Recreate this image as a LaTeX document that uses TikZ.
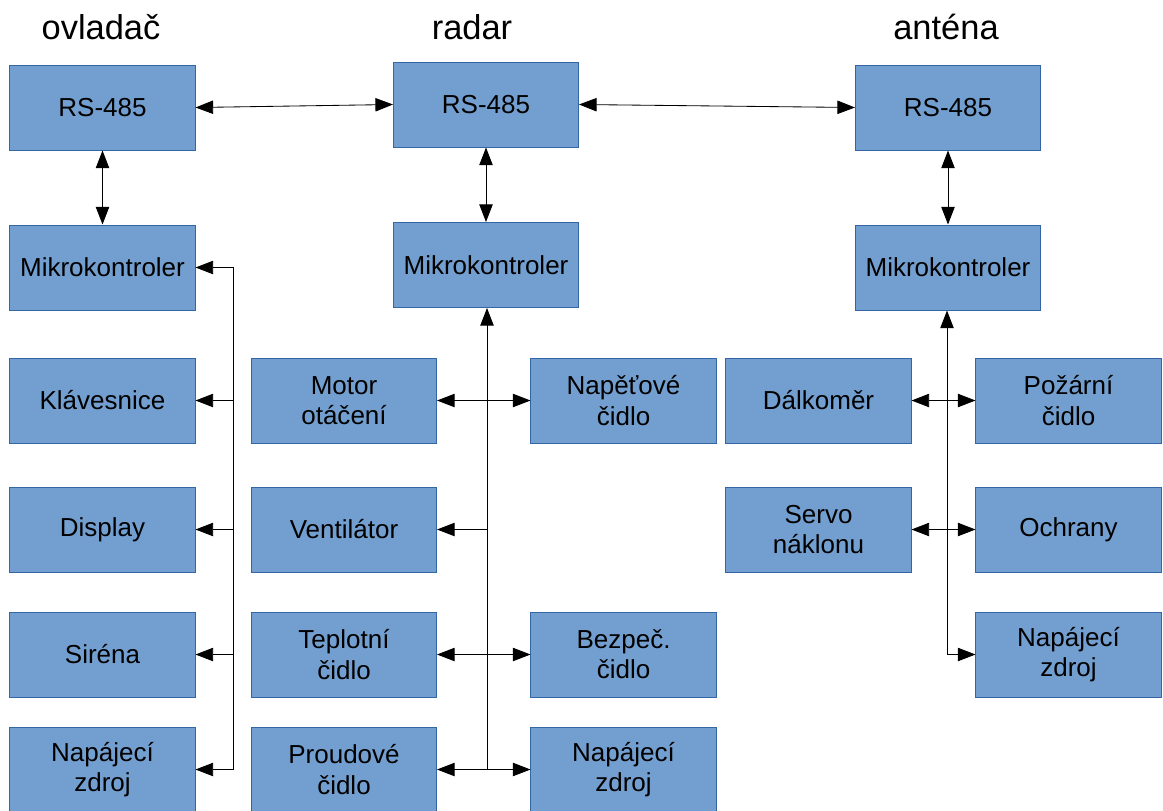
\documentclass[tikz,border=0pt]{standalone}
\usepackage{fontspec}
\setmainfont{Liberation Sans}
\usetikzlibrary{arrows.meta}

\definecolor{boxfill}{HTML}{729FCF}
\definecolor{boxline}{HTML}{3465A4}

\tikzset{
	blok/.style={draw=boxline, fill=boxfill, line width=0.7pt, minimum width=4.625cm, minimum height=2.125cm,
		align=center, font=\fontsize{18.5}{21.5}\selectfont},
	nadpis/.style={font=\fontsize{24.5}{28}\selectfont},
	spoj/.style={line width=0.6pt, >={Triangle[length=12.5pt,width=9.5pt]}, <->}
}

\begin{document}
\begin{tikzpicture}[x=0.025cm, y=-0.025cm]
	\useasboundingbox (0,0) rectangle (1163,810);
	
	% nadpisy
	\node[nadpis] (tovl) at (101,27) {ovladač};
	\node[nadpis] (trad) at (472,27) {radar};
	\node[nadpis] (tant) at (946,27) {anténa};
	
	% ovladac
	\node[blok] (ors)  at (102.5,107.5) {RS-485};
	\node[blok] (omk)  at (102.5,267.5) {Mikrokontroler};
	\node[blok] (okl)  at (102.5,400.5) {Klávesnice};
	\node[blok] (odis) at (102.5,529.5) {Display};
	\node[blok] (osir) at (102.5,654.5) {Siréna};
	\node[blok] (onap) at (102.5,769.5) {Napájecí\\zdroj};
	
	% radar
	\node[blok] (rrs)  at (486,104.5) {RS-485};
	\node[blok] (rmk)  at (486,265) {Mikrokontroler};
	\node[blok] (rmot) at (344,400.5) {Motor\\otáčení};
	\node[blok] (rnap) at (623.5,400.5) {Napěťové\\čidlo};
	\node[blok] (rven) at (344,529.5) {Ventilátor};
	\node[blok] (rtep) at (344,654.5) {Teplotní\\čidlo};
	\node[blok] (rbez) at (623.5,654.5) {Bezpeč.\\čidlo};
	\node[blok] (rpro) at (344,769.5) {Proudové\\čidlo};
	\node[blok] (rzdr) at (623.5,769.5) {Napájecí\\zdroj};
	
	% antena
	\node[blok] (ars)  at (948,107.5) {RS-485};
	\node[blok] (amk)  at (948,267.5) {Mikrokontroler};
	\node[blok] (adal) at (818.5,400.5) {Dálkoměr};
	\node[blok] (apoz) at (1068.5,400.5) {Požární\\čidlo};
	\node[blok] (aser) at (818.5,529.5) {Servo\\náklonu};
	\node[blok] (aoch) at (1068.5,529.5) {Ochrany};
	\node[blok] (anap) at (1068.5,654.5) {Napájecí\\zdroj};
	
	\coordinate (obus) at (233,0);
	\coordinate (rbus) at (487,0);
	\coordinate (abus) at (947,0);
	
	% RS-485 linka
	\draw[spoj] (ors.east) -- (rrs.west);
	\draw[spoj] (rrs.east) -- (ars.west);
	\draw[spoj] (ors) -- (omk);
	\draw[spoj] (rrs) -- (rmk);
	\draw[spoj] (ars) -- (amk);
	
	% sbernice ovladace
	\draw[spoj] (omk.east) -- (omk.east -| obus) -- (onap.east -| obus) -- (onap.east);
	\draw[spoj, <-] (okl.east) -- (okl.east -| obus);
	\draw[spoj, <-] (odis.east) -- (odis.east -| obus);
	\draw[spoj, <-] (osir.east) -- (osir.east -| obus);
	
	% sbernice radaru
	\draw[spoj, <-] (rmk.south -| rbus) -- (rpro.east -| rbus);
	\draw[spoj] (rmot.east) -- (rnap.west);
	\draw[spoj, <-] (rven.east) -- (rven.east -| rbus);
	\draw[spoj] (rtep.east) -- (rbez.west);
	\draw[spoj] (rpro.east) -- (rzdr.west);
	
	% sbernice anteny
	\draw[spoj] (amk.south -| abus) -- (anap.west -| abus) -- (anap.west);
	\draw[spoj] (adal.east) -- (apoz.west);
	\draw[spoj] (aser.east) -- (aoch.west);
\end{tikzpicture}
\end{document}
